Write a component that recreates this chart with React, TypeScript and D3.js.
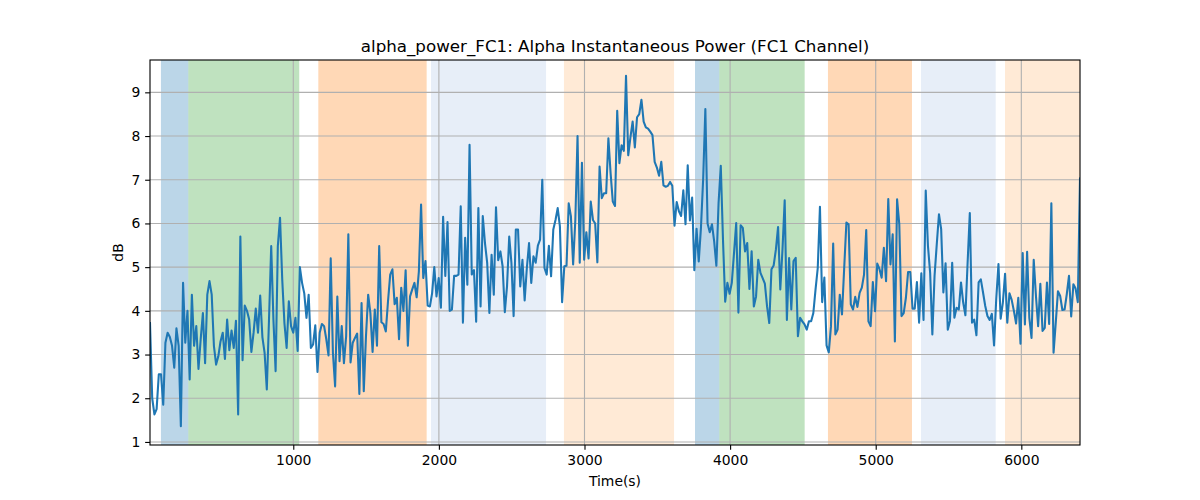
import React, { useEffect, useRef } from 'react';
import * as d3 from 'd3';

// sampling range of the recording (seconds)
const TIME_START = 16;
const TIME_END = 6403;

// alpha power in dB, read left to right in chunks
const powerPart1 = [3.72, 2.0, 1.63, 1.75, 2.55, 2.55, 1.85, 3.27, 3.5, 3.4, 3.2, 2.7, 3.6, 3.2, 1.36, 4.64, 3.27, 4.0, 2.43, 4.37, 3.2, 3.65, 2.67, 3.35, 3.95, 2.8, 4.37, 4.68, 4.37, 3.2, 2.77, 2.96, 3.3, 3.5, 2.9, 3.8, 3.1, 3.55, 3.15, 3.77, 1.63, 5.7, 2.87, 4.12, 4.0, 3.8, 3.06, 3.5, 4.05, 3.5, 4.35, 3.4, 3.04, 2.2, 3.8, 5.48, 3.8, 2.62, 5.48, 6.13, 4.72, 3.72, 3.15, 4.22, 3.65, 3.5, 3.84, 3.08];
const powerPart2 = [5.0, 4.64, 4.4, 3.84, 4.37, 3.15, 3.23, 3.67, 2.6, 3.5, 3.7, 3.65, 3.35, 2.98, 5.2, 3.04, 2.27, 4.33, 2.85, 3.65, 2.8, 3.42, 5.75, 2.82, 3.27, 3.38, 3.48, 2.1, 4.18, 2.16, 3.42, 4.37, 3.95, 3.06, 4.03, 3.2, 5.48, 3.74, 3.7, 3.53, 4.22, 4.83, 4.95, 4.15, 4.3, 3.35, 4.53, 4.0, 4.93, 3.2, 4.33, 4.49, 4.64, 4.31, 4.9, 6.43, 4.75, 5.14, 4.12, 4.1, 4.4, 5.0, 4.33, 4.75, 4.07, 6.15, 4.8, 6.03, 4.0, 4.03, 4.8, 4.8, 4.83];
const powerPart3 = [6.39, 3.73, 5.67, 4.6, 7.8, 4.83, 4.93, 3.75, 6.35, 4.1, 6.17, 5.55, 5.1, 3.95, 5.28, 4.37, 6.37, 5.16, 5.36, 5.02, 3.97, 4.56, 5.7, 5.1, 3.88, 5.86, 5.86, 4.56, 5.17, 4.24, 4.98, 5.55, 4.64, 5.25, 5.1, 5.49, 5.63, 7.0, 4.98, 4.83, 5.49, 4.79, 5.86, 6.08, 6.35, 5.93, 4.2, 5.02, 5.03, 6.46, 6.16, 5.06, 6.08, 8.0, 5.1, 7.39, 5.17, 5.8, 5.2, 6.5, 6.08, 6.0, 5.11, 7.3, 6.58, 6.69, 6.69, 7.95, 7.15, 6.5, 6.4];
const powerPart4 = [8.58, 7.38, 7.79, 7.66, 9.38, 7.56, 7.97, 8.33, 7.74, 8.43, 8.5, 8.83, 8.33, 8.2, 8.17, 8.1, 8.02, 7.41, 7.28, 7.09, 7.41, 6.87, 6.84, 6.86, 6.95, 6.86, 5.95, 6.49, 6.28, 6.17, 6.76, 5.98, 7.33, 6.07, 6.59, 4.93, 5.88, 5.13, 5.9, 7.01, 8.62, 6.0, 5.8, 5.98, 5.59, 5.03, 6.47, 7.32, 5.63, 4.21, 4.64, 4.39, 4.64, 5.32, 6.01, 3.96, 5.96, 5.9, 5.36, 5.55, 4.5, 5.36, 4.1, 4.33, 5.17, 4.87, 4.75, 4.62, 4.1, 3.72];
const powerPart5 = [4.95, 5.04, 5.4, 5.92, 4.49, 5.4, 6.53, 3.79, 5.21, 4.03, 5.14, 5.21, 3.42, 3.84, 3.76, 3.69, 3.57, 3.76, 3.76, 3.95, 4.49, 4.98, 6.38, 4.2, 4.76, 3.21, 3.05, 3.65, 5.54, 3.46, 3.57, 4.37, 3.92, 4.98, 6.02, 5.98, 4.15, 4.03, 4.32, 4.09, 4.41, 4.53, 4.83, 5.85, 3.76, 3.65, 4.66, 3.99, 5.08, 4.96, 4.76, 5.44, 4.68, 6.56, 5.06, 5.75, 3.3, 6.55, 5.98, 3.88, 3.95, 4.3, 4.89, 4.89, 4.05, 4.05, 4.66, 3.73, 4.86, 3.79];
const powerPart6 = [6.75, 5.49, 4.87, 3.46, 4.8, 5.52, 6.21, 5.87, 4.42, 5.09, 3.57, 3.77, 5.1, 3.84, 4.07, 4.03, 4.65, 4.19, 3.9, 5.1, 6.24, 3.73, 3.8, 3.44, 4.65, 4.72, 4.42, 4.11, 3.88, 3.79, 3.93, 3.21, 4.28, 5.07, 3.82, 4.19, 4.85, 3.73, 4.4, 4.25, 4.0, 3.71, 4.3, 3.25, 5.32, 3.69, 5.35, 3.84, 3.38, 5.17, 4.35, 3.65, 4.62, 3.54, 3.61, 4.65, 3.7, 6.46, 3.04, 3.73, 4.45, 4.34, 4.02, 4.03, 4.38, 4.8, 3.87, 4.61, 4.51, 4.2, 7.03];

const POWER_DB = [...powerPart1, ...powerPart2, ...powerPart3, ...powerPart4, ...powerPart5, ...powerPart6];

// shaded task segments
const SPAN_START = [91, 279, 1172, 1946, 2859, 3759, 3926, 4672, 5311, 5888];
const SPAN_END = [279, 1041, 1916, 2736, 3615, 3926, 4512, 5249, 5824, 6403];
const SPAN_COLOR = ['#1f77b4', '#2ca02c', '#ff7f0e', '#aec7e8', '#ffbb78', '#1f77b4', '#2ca02c', '#ff7f0e', '#aec7e8', '#ffbb78'];

const X_TICKS = [1000, 2000, 3000, 4000, 5000, 6000];
const Y_TICKS = [1, 2, 3, 4, 5, 6, 7, 8, 9];
const Y_DOMAIN: [number, number] = [0.93, 9.74];

const TITLE = 'alpha_power_FC1: Alpha Instantaneous Power (FC1 Channel)';

// matplotlib points -> pixels at 100 dpi
const pt = (v: number) => (v * 100) / 72;

const App: React.FC = () => {
  const svgRef = useRef<SVGSVGElement>(null);

  useEffect(() => {
    if (!svgRef.current) return;
    document.body.style.margin = '0';

    const svg = d3.select(svgRef.current);
    svg.selectAll('*').remove();

    const width = 1200;
    const height = 500;
    const margin = { top: 60, right: 120, bottom: 55, left: 150 };
    const innerW = width - margin.left - margin.right;
    const innerH = height - margin.top - margin.bottom;
    const font = '"DejaVu Sans", sans-serif';

    const step = (TIME_END - TIME_START) / (POWER_DB.length - 1);
    const data = POWER_DB.map((v, i) => ({ t: TIME_START + i * step, v }));

    const x = d3.scaleLinear().domain([TIME_START, TIME_END]).range([0, innerW]);
    const y = d3.scaleLinear().domain(Y_DOMAIN).range([innerH, 0]);

    svg.append('rect').attr('width', width).attr('height', height).attr('fill', '#fff');

    svg
      .append('defs')
      .append('clipPath')
      .attr('id', 'plot-clip')
      .append('rect')
      .attr('width', innerW)
      .attr('height', innerH);

    const g = svg.append('g').attr('transform', `translate(${margin.left},${margin.top})`);
    const plot = g.append('g').attr('clip-path', 'url(#plot-clip)');

    // Shaded segments
    plot
      .selectAll('.span')
      .data(SPAN_START.map((s, i) => ({ s, e: SPAN_END[i], c: SPAN_COLOR[i] })))
      .enter()
      .append('rect')
      .attr('x', d => x(d.s))
      .attr('width', d => x(d.e) - x(d.s))
      .attr('y', 0)
      .attr('height', innerH)
      .attr('fill', d => d.c)
      .attr('fill-opacity', 0.3);

    // Grid
    plot
      .selectAll('.gx')
      .data(X_TICKS)
      .enter()
      .append('line')
      .attr('x1', d => x(d))
      .attr('x2', d => x(d))
      .attr('y1', 0)
      .attr('y2', innerH)
      .attr('stroke', '#b0b0b0')
      .attr('stroke-width', pt(0.8));

    plot
      .selectAll('.gy')
      .data(Y_TICKS)
      .enter()
      .append('line')
      .attr('y1', d => y(d))
      .attr('y2', d => y(d))
      .attr('x1', 0)
      .attr('x2', innerW)
      .attr('stroke', '#b0b0b0')
      .attr('stroke-width', pt(0.8));

    // Power line
    const line = d3
      .line<{ t: number; v: number }>()
      .x(d => x(d.t))
      .y(d => y(d.v));

    plot
      .append('path')
      .datum(data)
      .attr('d', line)
      .attr('fill', 'none')
      .attr('stroke', '#1f77b4')
      .attr('stroke-width', pt(1.5))
      .attr('stroke-linejoin', 'round')
      .attr('stroke-linecap', 'square');

    // Axes
    const xAxis = g
      .append('g')
      .attr('transform', `translate(0,${innerH})`)
      .call(d3.axisBottom(x).tickValues(X_TICKS).tickSize(pt(3.5)).tickPadding(pt(3.5)).tickFormat(d3.format('d')));
    const yAxis = g
      .append('g')
      .call(d3.axisLeft(y).tickValues(Y_TICKS).tickSize(pt(3.5)).tickPadding(pt(3.5)).tickFormat(d3.format('d')));

    [xAxis, yAxis].forEach(ax => {
      ax.select('.domain').remove();
      ax.selectAll('line').attr('stroke', '#000').attr('stroke-width', pt(0.8));
      ax.selectAll('text').attr('font-family', font).attr('font-size', '13.9px').attr('fill', '#000');
    });

    // Frame
    g.append('rect')
      .attr('width', innerW)
      .attr('height', innerH)
      .attr('fill', 'none')
      .attr('stroke', '#000')
      .attr('stroke-width', pt(0.8));

    // Labels
    g.append('text')
      .attr('x', innerW / 2)
      .attr('y', -8)
      .attr('text-anchor', 'middle')
      .attr('font-family', font)
      .attr('font-size', '16.7px')
      .text(TITLE);

    g.append('text')
      .attr('x', innerW / 2)
      .attr('y', innerH + 41)
      .attr('text-anchor', 'middle')
      .attr('font-family', font)
      .attr('font-size', '13.9px')
      .text('Time(s)');

    g.append('text')
      .attr('transform', `translate(${-27},${innerH / 2}) rotate(-90)`)
      .attr('text-anchor', 'middle')
      .attr('font-family', font)
      .attr('font-size', '13.9px')
      .text('dB');
  }, []);

  return <svg ref={svgRef} width={1200} height={500} style={{ display: 'block' }}></svg>;
};

export default App;
